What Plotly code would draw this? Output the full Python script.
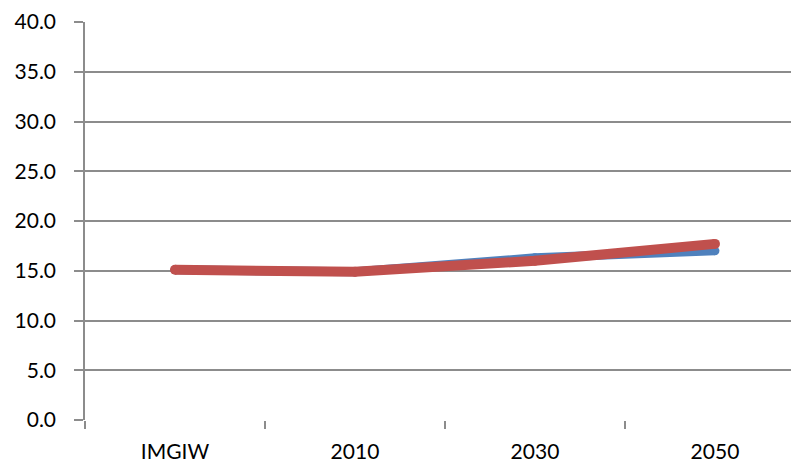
import plotly.graph_objects as go

categories = ["IMGIW", "2010", "2030", "2050"]
series_blue = [15.1, 14.9, 16.3, 17.0]
series_red = [15.1, 14.9, 16.0, 17.7]
y_ticks = [0, 5, 10, 15, 20, 25, 30, 35, 40]
y_tick_labels = ["0.0", "5.0", "10.0", "15.0", "20.0", "25.0", "30.0", "35.0", "40.0"]

fig = go.Figure()
fig.add_trace(go.Scatter(x=categories, y=series_blue, mode="lines+markers",
                         line=dict(color="#4F81BD", width=9),
                         marker=dict(color="#4F81BD", size=9, line=dict(width=0)),
                         showlegend=False))
fig.add_trace(go.Scatter(x=categories, y=series_red, mode="lines+markers",
                         line=dict(color="#C0504D", width=10),
                         marker=dict(color="#C0504D", size=10, line=dict(width=0)),
                         showlegend=False))

fig.update_layout(
    width=791, height=457,
    margin=dict(l=77, r=0, t=14, b=45),
    plot_bgcolor="white", paper_bgcolor="white",
    font=dict(family="Lato, Open Sans, sans-serif", size=21, color="black"),
    xaxis=dict(type="category", range=[-0.5, 3.467], showgrid=False,
               showline=False, ticks="outside", tickson="boundaries",
               ticklen=8, tickcolor="#8C8C8C", tickwidth=1.5,
               zeroline=False, tickfont=dict(size=21), ticklabelstandoff=17),
    yaxis=dict(range=[0, 40], tickvals=y_ticks, ticktext=y_tick_labels,
               showgrid=True, gridcolor="#8C8C8C", gridwidth=1.5,
               showline=True, linecolor="#8C8C8C", linewidth=1.5,
               ticks="outside", ticklen=9, tickcolor="#8C8C8C", tickwidth=1.5,
               zeroline=False, tickfont=dict(size=21), ticklabelstandoff=14),
)

fig.write_html("out.html")
